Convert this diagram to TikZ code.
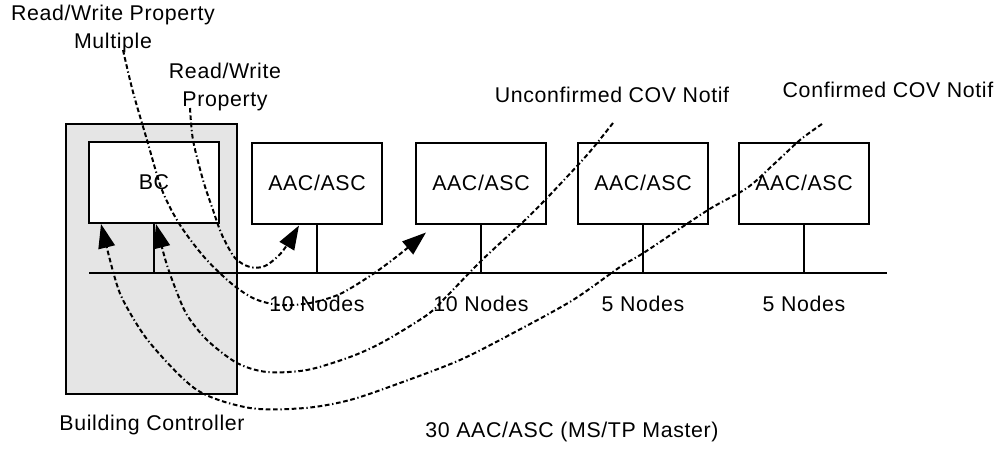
\documentclass[tikz,border=0pt]{standalone}
\usepackage{fontspec}
\setmainfont{Liberation Sans}[LetterSpace=3]
\usetikzlibrary{calc,arrows.meta}

\begin{document}
\begin{tikzpicture}[x=0.75pt, y=-0.75pt,
    every node/.style={font=\fontsize{16pt}{20.5pt}\selectfont},
    box/.style={draw, line width=1.5pt, fill=white, minimum width=97.5pt, minimum height=60.75pt, inner sep=0pt},
    wire/.style={line width=1.5pt},
    msg/.style={line width=1.5pt, dash pattern=on 3.5pt off 2pt on 3.5pt off 2pt on 3.5pt off 2pt on 1pt off 2pt, -{Triangle[length=18pt,width=12.5pt]}}]
    \useasboundingbox (0,0) rectangle (1001,450);

    % Building controller
    \node[draw, line width=1.5pt, fill=black!10, minimum width=128.25pt, minimum height=202.5pt] (ctrl) at (151.5,259) {};
    \node[box] (bc) at (154,182.5) {BC};
    \node (bcname) at (152,425) {Building Controller};

    % MS/TP bus
    \coordinate (busL) at (89,273);
    \coordinate (busR) at (887,273);
    \draw[wire] (busL) -- (busR);
    \draw[wire] (bc.south) -- (bc.south |- busL);

    \foreach \i/\x/\n in {1/317/10, 2/481/10, 3/643/5, 4/804/5}{
        \node[box] (asc\i) at (\x,183) {AAC/ASC};
        \draw[wire] (asc\i.south) -- (asc\i.south |- busL);
        \node (cnt\i) at (\x,304) {\n\ Nodes};
    }
    \node (total) at (572,432) {30 AAC/ASC (MS/TP Master)};

    % Services
    \node[align=center] (rwpm) at (113,29) {Read/Write Property\\Multiple};
    \node[align=center] (rwp) at (225,87) {Read/Write\\Property};
    \node (ucov) at (612,95) {Unconfirmed COV Notif};
    \node (ccov) at (888,90) {Confirmed COV Notif};

    \coordinate (srcA) at (190,108);
    \coordinate (srcB) at (123,50);
    \coordinate (srcC) at (822,124);
    \coordinate (srcD) at (613,123);
    \coordinate (tipA) at ($(asc1.south west)+(48,1)$);
    \coordinate (tipB) at ($(asc2.south west)+(11,8)$);
    \coordinate (tipC) at ($(bc.south west)+(13,0)$);
    \coordinate (tipD) at ($(bc.south)+(2,0)$);

    \draw[msg] plot[smooth] coordinates {(srcA) (193,140) (203,180) (213,210) (222,235) (235,258) (250,267) (265,266) (282,252) (tipA)};
    \draw[msg] plot[smooth] coordinates {(srcB) (133,92) (147,140) (162,190) (180,225) (205,258) (232,284) (255,299) (280,305) (310,303) (340,294) (373,274) (400,254) (tipB)};
    \draw[msg] plot[smooth] coordinates {(srcD) (593,148) (578,165) (547,198) (523,222) (482,260) (447,296) (427,315) (383,342) (350,357) (307,370) (267,372) (237,363) (207,340) (187,315) (176,290) (166,262) (tipD)};
    \draw[msg] plot[smooth] coordinates {(srcC) (800,140) (773,165) (747,188) (708,210) (645,252) (620,267) (573,300) (515,332) (460,360) (400,383) (350,400) (305,408) (250,408) (197,390) (150,343) (124,302) (114,275) (tipC)};
\end{tikzpicture}
\end{document}
